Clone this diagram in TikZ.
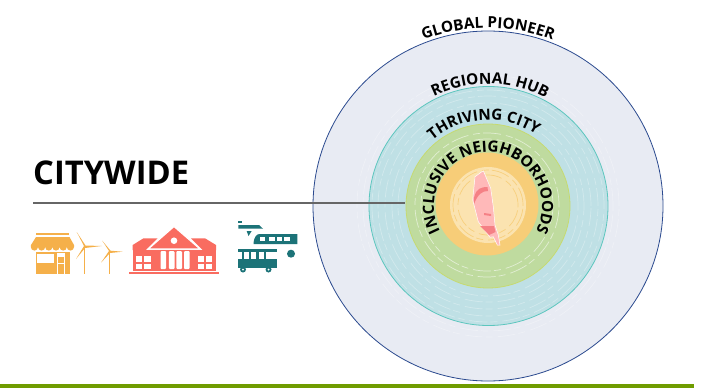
\documentclass[tikz,border=0pt]{standalone}
\usepackage{fontspec}
\setmainfont{Open Sans}
\usepackage{xcolor}
\usetikzlibrary{decorations.text}
\definecolor{globalfill}{HTML}{E8EBF3}
\definecolor{globaledge}{HTML}{2B4A8F}
\definecolor{hubfill}{HTML}{BFE0E5}
\definecolor{hubedge}{HTML}{5CC6BE}
\definecolor{cityfill}{HTML}{BFDB9F}
\definecolor{cityedge}{HTML}{C6DA70}
\definecolor{hoodfill}{HTML}{F7CD78}
\definecolor{hoodcream}{HTML}{FBE3B0}
\definecolor{mappink}{HTML}{FFB9B9}
\definecolor{mapred}{HTML}{F58085}
\definecolor{shopcolor}{HTML}{F5B04A}
\definecolor{hallcolor}{HTML}{F96C60}
\definecolor{buscolor}{HTML}{1C7378}
\definecolor{barcolor}{HTML}{6F9C00}
\tikzset{
	ring/.style={circle,inner sep=0pt,line width=0.8pt},
	ringtext/.style={decorate,decoration={text along path,text align=center,
		text={|\fontsize{#1}{#1}\selectfont\bfseries|\ringlabel}}},
	grain/.style={white,opacity=0.3,line width=0.7pt,dash pattern=on 18pt off 3pt on 7pt off 5pt},
	blade/.style={shopcolor,line width=1pt},
}
\begin{document}
\begin{tikzpicture}[x=1pt,y=1pt]
	\useasboundingbox (0,0) rectangle (702,-388);
	\fill [white] (0,0) rectangle (702,-388);
	\node [ring,draw=globaledge,fill=globalfill,minimum size=350pt] (global) at (488,-206) {};
	\node [ring,draw=hubedge,fill=hubfill,minimum size=239pt] (hub) at (488.5,-206) {};
	\node [ring,draw=cityedge,fill=cityfill,minimum size=164pt] (city) at (488,-206) {};
	\node [ring,fill=hoodfill,minimum size=103pt] (hood) at (487,-204) {};
	\node [ring,fill=hoodcream,minimum size=76pt] (core) at (488,-205) {};
	\foreach \r in {125,131}
		\draw [grain,opacity=0.3] (488,-206) circle (\r pt);
	\foreach \r in {90,96,103,110,116}
		\draw [grain] (488,-206) circle (\r pt);
	\foreach \r in {66,72}
		\draw [grain,opacity=0.55] (487,-205) circle (\r pt);
	\foreach \r in {30,35,43}
		\draw [grain,hoodfill,opacity=0.9] (488,-205) circle (\r pt);
	\draw [fill=mappink,draw=white,line width=0.5pt] (483.3,-170.7) -- (475,-176.7) -- (472.7,-200) -- (478.3,-221.7) -- (490,-237.3) -- (493.3,-236.7) -- (497.3,-245) -- (500,-245) -- (498.3,-235) -- (495,-225) -- (493.3,-206.7) -- (490.7,-188.3) -- cycle;
	\fill [mapred] (474,-198) .. controls (476,-188) and (482,-187) .. (487.5,-187) -- (488,-191) .. controls (482,-191) and (478,-194) .. (474,-204) -- cycle;
	\fill [mapred] (480,-226) -- (494,-226) -- (495.5,-232) -- (489,-235) -- cycle;
	\fill [mapred] (484,-213) -- (491,-214) -- (491,-216) -- (484,-215) -- cycle;
	\def\ringlabel{GLOBAL PIONEER}
	\path [ringtext=15.3] (488,-206) ++(155:178pt) arc (155:25:178pt);
	\def\ringlabel{REGIONAL HUB}
	\path [ringtext=15.3] (488,-206) ++(149:122pt) arc (149:29:122pt);
	\def\ringlabel{THRIVING CITY}
	\path [ringtext=15.3] (488,-206) ++(153:86pt) arc (153:33:86pt);
	\def\ringlabel{INCLUSIVE NEIGHBORHOODS}
	\path [ringtext=15.4] (488,-206) ++(230:54pt) arc (230:-50:54pt);
	\node [anchor=base west,inner sep=0pt,font=\fontsize{32.7}{32.7}\selectfont\bfseries] (citywide) at (33,-184) {CITYWIDE};
	\coordinate (rulestart) at (33,-203);
	\coordinate (ruleend) at (405,-203);
	\draw [black!60,line width=1.2pt] (rulestart) -- (ruleend);
	\fill [barcolor] (0,-384) rectangle (694,-388);
	% shop
	\fill [shopcolor] (36,-233.3) rectangle (69.3,-235.3);
	\fill [shopcolor] (36,-237) -- (69.5,-237) -- (74,-245) -- (74,-247) arc (0:-180:3.6pt) arc (0:-180:3.6pt) arc (0:-180:3.6pt) arc (0:-180:3.6pt) arc (0:-180:3.6pt) arc (0:-180:3.6pt) -- (31,-245) -- cycle;
	\fill [shopcolor] (36,-252) rectangle (70,-274);
	\fill [white] (37.3,-254) rectangle (54.3,-263);
	\fill [white] (56.7,-252.7) rectangle (65.3,-274);
	\fill [shopcolor] (58.3,-257) rectangle (63.7,-274);
	\fill [white] (58.3,-263) rectangle (63.7,-264);
	% turbines
	\draw [blade] (84,-246.7) -- (84,-274);
	\fill [shopcolor] (84,-246) -- (76.7,-232) -- (85.5,-245.5) -- (101.7,-246) -- (85,-248) -- (76,-259) -- cycle;
	\draw [blade] (109,-251.7) -- (109,-274);
	\fill [shopcolor] (109,-251) -- (102.3,-240.7) -- (110.5,-250.7) -- (122.7,-251.7) -- (110,-253) -- (101,-262.7) -- cycle;
	% town hall
	\fill [hallcolor] (129.3,-271.7) rectangle (219.3,-273.7);
	\fill [hallcolor] (132.7,-250) -- (132.7,-245) -- (143.5,-238.3) -- (157.5,-238.3) -- (146,-250) -- cycle;
	\fill [hallcolor] (216,-250) -- (216,-245) -- (205,-238.3) -- (191,-238.3) -- (202.5,-250) -- cycle;
	\fill [hallcolor] (132.7,-250) rectangle (216,-270.5);
	\draw [fill=hallcolor,draw=white,line width=1.2pt] (174,-226.5) -- (200,-249) -- (148.3,-249) -- cycle;
	\fill [white] (174,-240.7) circle (3.3pt);
	\foreach \x in {163.3,171.7,179.2,186.8}
		\fill [white,rounded corners=1pt] (\x-2.8,-251) rectangle (\x+2.8,-269);
	\foreach \x in {136,197.5} {
		\fill [white] (\x,-256) rectangle (\x+6.4,-262);
		\fill [white] (\x+8,-256) rectangle (\x+14.6,-262);
		\fill [white] (\x,-263.5) rectangle (\x+6.4,-269);
		\fill [white] (\x+8,-263.5) rectangle (\x+14.6,-269);
	}
	% buses
	\fill [buscolor] (238.3,-221.3) rectangle (241.7,-222.7);
	\fill [buscolor] (238.3,-225) -- (259,-225) -- (263,-228.7) -- (238.3,-228.7) -- cycle;
	\fill [buscolor] (246.7,-231) -- (251.7,-231) -- (248.5,-236) -- cycle;
	\fill [buscolor] (253.5,-244) .. controls (254,-236) and (257,-234) .. (260,-234) -- (297.3,-234) -- (297.3,-244) -- cycle;
	\foreach \x in {259.5,269,276.5,284}
		\fill [white] (\x,-237) rectangle (\x+5.5,-241.3);
	\fill [buscolor] (291,-253.7) circle (4pt);
	\fill [buscolor] (238.3,-248.7) rectangle (276.7,-268);
	\foreach \x/\w in {238.3/3.2,243.5/5,251/5,258.5/5,266/10.7}
		\fill [white] (\x,-252) rectangle (\x+\w,-258.5);
	\fill [buscolor] (243,-269.5) circle (3pt);
	\fill [white] (243,-269.5) circle (1pt);
	\fill [buscolor] (268.5,-269.5) circle (3pt);
	\fill [white] (268.5,-269.5) circle (1pt);
\end{tikzpicture}
\end{document}
